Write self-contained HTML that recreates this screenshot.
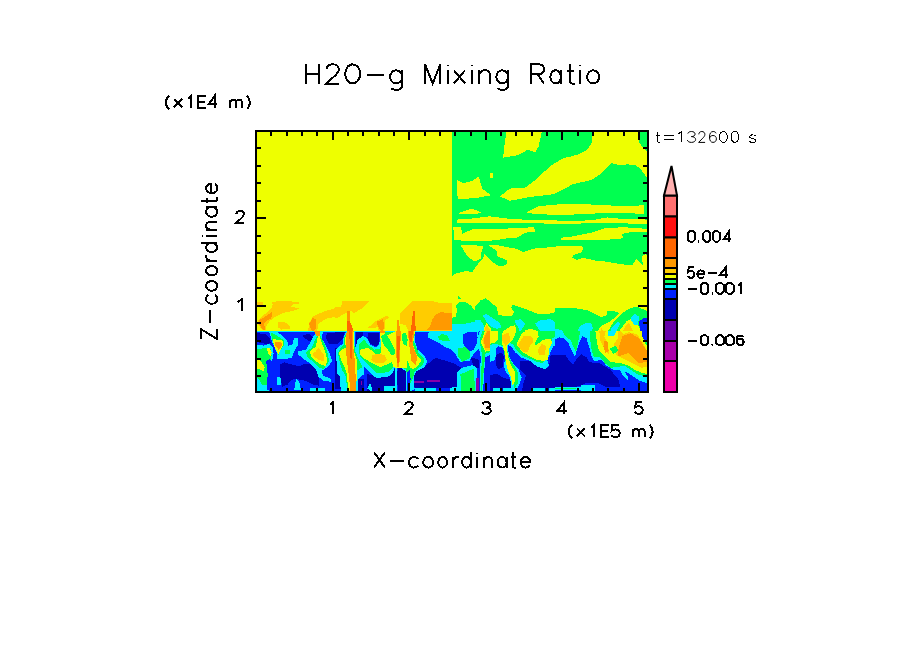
<!DOCTYPE html>
<html><head><meta charset="utf-8"><style>
html,body{margin:0;padding:0;background:#fff;width:904px;height:654px;overflow:hidden}
svg{display:block}
text{font-family:"Liberation Sans",sans-serif;fill:#000}
</style></head><body>
<svg width="904" height="654" viewBox="0 0 904 654">
<g shape-rendering="crispEdges">
<rect x="256" y="131" width="392" height="261" fill="#eeff00"/>
<rect x="452" y="131" width="196" height="261" fill="#00ff50"/>
<polygon fill="#eeff00" points="506.4,132.0 541.8,132.0 538.5,146.6 535.2,152.1 527.4,149.9 521.9,153.2 516.4,155.4 503.1,157.7 504.2,146.6"/>
<polygon fill="#eeff00" points="591.6,132.0 638.1,132.0 639.2,142.2 643.6,148.8 647.0,151.0 647.0,177.6 640.3,168.7 635.8,165.4 627.0,164.3 621.5,165.4 611.5,163.2 606.0,168.7 600.4,174.2 591.6,179.8 582.7,182.0 572.8,184.2 562.8,189.7 554.0,194.2 545.1,195.3 535.2,196.4 527.4,197.5 516.4,199.7 509.7,200.8 499.8,196.4 504.2,193.1 509.7,188.6 525.2,187.5 534.1,180.9 542.9,173.1 549.6,166.5 558.4,161.0 565.0,157.7 570.6,156.5 578.3,154.3 587.2,149.9 591.6,143.3"/>
<polygon fill="#eeff00" points="456.6,179.8 463.3,183.1 472.1,180.9 478.8,176.5 482.1,188.6 490.9,195.3 478.8,197.5 467.7,198.6 457.7,198.6"/>
<polygon fill="#eeff00" points="490.0,173.0 492.5,173.0 493.0,177.5 490.0,178.0"/>
<polygon fill="#eeff00" points="458.8,213.0 472.1,208.5 482.1,213.0 472.1,214.1 458.8,214.1"/>
<polygon fill="#eeff00" points="527.4,211.9 538.5,206.3 560.6,204.1 582.7,204.1 604.9,205.2 627.0,206.3 643.6,205.2 644.2,214.1 627.0,213.0 604.9,213.0 582.7,214.1 560.6,215.2 538.5,214.1 527.4,213.0"/>
<polygon fill="#eeff00" points="456.6,219.6 472.1,218.5 489.8,216.3 507.5,218.5 523.0,219.6 538.5,219.6 560.6,220.7 582.7,220.7 596.0,219.6 607.1,217.4 618.1,218.5 647.0,219.6 647.0,224.0 604.9,222.9 560.6,224.0 523.0,222.9 494.2,222.9 472.1,222.9 456.6,223.4"/>
<polygon fill="#eeff00" points="453.3,227.2 461.1,227.2 462.2,233.8 472.1,229.4 494.2,229.4 511.9,228.3 534.1,227.2 535.2,231.6 525.2,232.7 516.4,238.2 507.5,238.2 494.2,240.4 472.1,241.5 460.0,240.4 454.4,240.4"/>
<polygon fill="#eeff00" points="561.0,238.3 564.4,237.2 576.5,236.1 581.0,235.0 621.9,235.0 623.6,238.3 604.2,240.0 572.1,240.5 561.0,240.0"/>
<polygon fill="#eeff00" points="604.9,228.3 622.6,227.2 640.3,228.3 647.0,229.4 647.0,231.6 624.8,232.7 618.1,237.1 604.9,239.3 582.7,240.4 573.9,236.0 591.6,232.7"/>
<polygon fill="#eeff00" points="460.5,245.0 472.1,245.0 482.1,246.1 483.2,247.2 481.5,251.6 481.0,258.2 476.5,261.0 473.2,261.0 466.6,254.9"/>
<polygon fill="#eeff00" points="452.0,275.9 456.6,273.2 466.6,271.0 472.1,272.1 476.5,266.0 479.9,261.5 483.2,258.2 484.3,253.8 488.7,258.2 494.2,263.2 499.8,266.5 506.4,264.9 507.5,260.4 497.6,256.6 497.0,251.6 493.1,248.3 488.7,246.1 489.8,245.0 498.7,245.5 516.4,248.8 523.0,252.1 529.6,249.9 538.5,247.7 544.0,248.3 550.0,246.6 582.1,246.1 583.2,248.8 581.0,252.7 573.2,254.9 572.1,257.7 576.5,259.9 583.2,257.7 594.2,260.4 605.3,261.5 618.6,263.8 631.9,265.4 636.3,259.3 642.9,264.9 641.8,256.0 645.1,254.4 647.0,254.9 647.0,392.0 452.0,392.0"/>
<clipPath id="c0"><rect x="256.00" y="290.00" width="80.00" height="43.00"/></clipPath>
<g clip-path="url(#c0)">
<rect x="256.00" y="290.00" width="80.00" height="43.00" fill="#eeff00"/>
<polygon fill="#ffcc00" points="257.2,302.3 263.0,302.3 262.8,304.6 257.2,304.9"/>
<polygon fill="#ffcc00" points="271.4,301.9 281.5,301.0 290.4,301.4 299.2,302.1 299.2,303.7 292.2,304.6 291.3,306.9 299.2,308.3 296.6,309.9 290.4,311.4 284.2,312.7 278.0,315.4 272.7,318.5 269.2,321.5 266.5,326.0 266.1,330.4 262.5,330.0 258.5,325.1 257.7,320.7 261.2,317.1 266.5,312.7 270.9,309.2 272.7,304.7"/>
<polygon fill="#ffcc00" points="278.0,322.4 284.2,321.5 289.5,326.0 290.4,329.1 281.5,329.5 278.5,327.7"/>
<polygon fill="#ffcc00" points="308.1,332.2 309.0,323.3 312.5,317.1 316.9,314.5 325.8,310.9 335.0,308.3 335.0,317.1 327.6,318.0 318.7,323.3 316.9,332.2"/>
<polygon fill="#ff9900" points="258.5,320.7 265.6,316.2 272.7,311.4 271.4,318.0 265.6,321.5 263.8,324.2 265.6,330.0 263.0,329.5 259.4,325.1"/>
<polygon fill="#ff9900" points="309.0,324.2 312.5,318.0 316.1,319.8 316.1,328.6 312.5,332.2"/>
</g>
<clipPath id="c1"><rect x="335.00" y="290.00" width="81.00" height="43.00"/></clipPath>
<g clip-path="url(#c1)">
<rect x="335.00" y="290.00" width="81.00" height="43.00" fill="#eeff00"/>
<polygon fill="#ffcc00" points="333.2,307.7 341.2,306.8 342.1,301.1 369.5,301.1 364.2,306.8 354.5,313.0 350.9,311.2 343.8,313.9 338.5,317.4 333.2,318.3"/>
<polygon fill="#ffcc00" points="367.7,328.1 375.7,321.0 386.3,315.7 389.0,317.4 384.6,321.0 385.4,327.2 382.8,332.5 379.2,331.6 377.5,327.2 373.9,328.1"/>
<polygon fill="#ffcc00" points="399.6,313.9 405.8,307.7 412.0,301.1 419.1,301.1 419.1,332.5 409.3,332.5 405.8,325.4 400.5,323.6"/>
<polygon fill="#ff9900" points="346.9,311.2 349.6,311.2 350.0,321.0 346.5,321.0"/>
<polygon fill="#ff9900" points="376.6,321.9 382.8,319.2 384.6,327.2 381.9,332.5 378.4,327.2"/>
<polygon fill="#ff9900" points="397.4,320.1 398.7,320.1 400.5,332.5 396.9,332.5"/>
<polygon fill="#ff6600" points="346.5,321.0 350.0,321.0 352.7,328.9 352.7,332.5 346.5,332.5"/>
<polygon fill="#ff6600" points="412.9,311.2 419.1,311.2 419.1,332.5 410.2,332.5 412.0,322.7"/>
</g>
<clipPath id="c2"><rect x="415.00" y="290.00" width="38.00" height="43.00"/></clipPath>
<g clip-path="url(#c2)">
<rect x="415.00" y="290.00" width="38.00" height="43.00" fill="#eeff00"/>
<polygon fill="#ffcc00" points="399.4,313.9 407.4,303.3 412.7,301.1 432.2,301.1 439.2,302.8 456.9,302.8 456.9,329.4 418.0,329.4 414.5,328.9 403.8,328.9 400.3,323.6 400.3,316.5"/>
<polygon fill="#ffcc00" points="412.7,329.4 456.9,329.4 456.9,332.5 421.5,332.5"/>
<polygon fill="#ff9900" points="432.2,319.2 435.7,314.8 441.0,312.1 448.1,313.0 456.9,313.9 456.9,329.8 426.9,329.8 430.4,325.4"/>
<polygon fill="#ff6600" points="396.8,322.7 399.0,319.2 400.3,332.5 396.3,332.5"/>
<polygon fill="#ff6600" points="409.2,332.5 412.7,321.9 413.1,311.2 414.5,311.2 415.4,325.4 416.7,332.5"/>
</g>
<clipPath id="c3"><rect x="452.00" y="290.00" width="24.00" height="43.00"/></clipPath>
<g clip-path="url(#c3)">
<rect x="452.00" y="290.00" width="24.00" height="43.00" fill="#eeff00"/>
<polygon fill="#00ff50" points="448.1,319.2 456.1,316.5 456.9,310.4 456.1,305.9 460.5,301.5 465.8,302.4 470.2,305.0 475.0,310.4 475.0,343.1 448.1,343.1"/>
<polygon fill="#00ff50" points="457.8,295.8 460.9,298.8 457.8,298.8"/>
<polygon fill="#00eeff" points="448.1,325.4 456.9,323.6 465.8,323.6 479.1,321.0 479.1,343.1 448.1,343.1"/>
<polygon fill="#0022ff" points="464.9,333.4 479.1,331.6 479.1,343.1 464.9,343.1"/>
</g>
<clipPath id="c4"><rect x="475.00" y="290.00" width="81.00" height="43.00"/></clipPath>
<g clip-path="url(#c4)">
<rect x="475.00" y="290.00" width="81.00" height="43.00" fill="#eeff00"/>
<polygon fill="#00ff50" points="470.6,312.1 480.3,300.6 485.6,298.0 490.9,302.4 497.1,307.7 498.0,314.8 503.3,315.7 512.2,315.7 513.9,312.1 511.3,307.7 512.2,305.0 516.6,305.9 524.6,308.6 536.9,313.5 550.2,313.5 559.1,311.2 559.1,343.1 470.6,343.1"/>
<polygon fill="#00eeff" points="470.6,320.1 480.3,320.1 483.8,325.4 483.0,343.1 470.6,343.1"/>
<polygon fill="#00eeff" points="483.0,315.7 486.5,313.9 492.7,318.3 499.8,322.7 501.5,327.2 497.1,328.9 491.8,327.2 486.5,321.9"/>
<polygon fill="#00eeff" points="514.8,320.1 521.0,319.2 525.4,323.6 522.8,328.1 519.2,332.5 518.4,327.2 515.7,323.6"/>
<polygon fill="#00eeff" points="535.2,323.6 540.5,320.1 551.1,319.2 559.1,325.4 559.1,343.1 545.8,343.1 544.0,334.2 538.7,328.9"/>
<polygon fill="#0022ff" points="470.6,331.6 476.8,331.6 476.8,343.1 470.6,343.1"/>
<polygon fill="#00ff50" points="544.0,334.2 547.6,331.6 552.0,334.2 552.9,343.1 544.0,343.1"/>
<polygon fill="#eeff00" points="483.0,343.1 483.8,328.9 486.5,322.7 490.9,328.9 492.7,334.2 497.1,330.7 496.2,343.1"/>
<polygon fill="#eeff00" points="501.5,343.1 504.2,330.7 510.4,326.3 514.8,325.4 516.6,328.9 514.8,336.0 512.2,343.1"/>
<polygon fill="#eeff00" points="519.2,343.1 524.6,330.7 529.9,328.9 535.2,329.8 539.6,334.2 538.7,343.1"/>
<polygon fill="#eeff00" points="546.7,343.1 548.5,337.8 551.1,337.8 551.1,343.1"/>
<polygon fill="#ffcc00" points="483.0,343.1 483.4,332.5 486.5,324.5 490.0,329.8 489.2,343.1"/>
<polygon fill="#ffcc00" points="502.4,343.1 504.2,334.2 509.5,333.4 509.5,343.1"/>
<polygon fill="#ffcc00" points="522.8,343.1 524.6,336.0 532.5,336.9 533.4,343.1"/>
<polygon fill="#ff9900" points="483.4,333.4 488.3,333.4 487.4,343.1 483.8,343.1"/>
</g>
<clipPath id="c5"><rect x="555.00" y="290.00" width="93.00" height="43.00"/></clipPath>
<g clip-path="url(#c5)">
<rect x="555.00" y="290.00" width="93.00" height="43.00" fill="#eeff00"/>
<polygon fill="#00ff50" points="549.7,308.9 561.3,307.9 576.0,308.4 586.5,310.0 594.9,314.2 601.2,317.3 606.5,315.2 607.5,311.0 613.8,311.0 619.1,313.1 613.8,318.4 609.6,321.5 601.2,325.7 597.0,332.0 549.7,332.0"/>
<polygon fill="#00ff50" points="607.5,332.0 613.8,321.5 622.3,313.1 630.7,307.9 637.0,306.8 645.4,310.0 647.5,312.1 654.8,317.3 654.8,332.0 641.2,332.0 638.0,324.7 632.8,321.5 628.6,323.6 623.3,332.0"/>
<polygon fill="#00eeff" points="549.7,327.8 561.3,329.9 567.6,335.2 568.7,340.4 549.7,340.4"/>
<polygon fill="#00eeff" points="577.1,332.0 580.2,325.7 586.5,322.6 591.8,323.6 592.8,328.9 589.7,334.1 585.5,336.2 579.2,340.4 576.0,340.4"/>
<polygon fill="#00eeff" points="606.5,340.4 611.7,327.8 618.1,321.5 620.2,323.6 615.9,332.0 611.7,340.4"/>
<polygon fill="#00eeff" points="630.7,317.3 634.9,314.2 639.1,316.3 638.0,324.7 634.9,325.7 630.7,322.6"/>
<polygon fill="#0022ff" points="639.1,321.5 643.3,318.4 654.8,316.3 654.8,340.4 641.2,340.4 640.1,332.0"/>
<polygon fill="#0000b0" points="558.2,338.3 564.5,337.3 566.6,340.4 558.2,340.4"/>
<polygon fill="#0000b0" points="579.2,340.4 582.3,336.2 586.5,337.3 587.6,340.4"/>
<polygon fill="#eeff00" points="615.9,340.4 620.2,329.9 626.5,321.5 630.7,319.4 633.8,324.7 637.0,332.0 639.1,340.4"/>
<polygon fill="#eeff00" points="600.2,340.4 603.3,327.8 610.7,320.5 614.9,319.4 609.6,327.8 606.5,334.1 605.4,340.4"/>
<polygon fill="#ffcc00" points="620.2,340.4 624.4,327.8 628.6,322.6 633.8,332.0 634.9,340.4"/>
<polygon fill="#ffcc00" points="600.2,340.4 601.2,327.8 604.4,332.0 604.4,340.4"/>
<polygon fill="#ff9900" points="624.4,340.4 626.5,334.1 632.8,333.1 635.9,340.4"/>
</g>
<clipPath id="c6"><rect x="256.00" y="331.00" width="80.00" height="61.00"/></clipPath>
<g clip-path="url(#c6)">
<rect x="256.00" y="331.00" width="80.00" height="61.00" fill="#0022ff"/>
<polygon fill="#0000b0" points="253.0,332.9 264.8,333.9 269.7,337.8 270.6,342.7 267.7,344.7 260.9,342.7 253.0,341.7"/>
<polygon fill="#0000b0" points="280.4,364.2 284.3,362.3 294.1,365.2 299.0,366.2 303.9,364.2 309.8,363.7 315.6,366.2 318.6,371.1 319.5,380.9 318.6,385.7 313.7,384.8 305.9,380.9 301.0,379.9 296.1,378.9 291.2,379.9 287.3,384.8 282.4,386.7 280.4,378.9 279.9,371.1"/>
<polygon fill="#0000b0" points="302.9,334.9 309.8,333.9 313.7,337.8 312.7,341.7 308.8,340.8 303.9,337.8"/>
<polygon fill="#0000b0" points="327.4,332.9 338.1,332.9 338.1,344.7 329.3,343.7 325.4,337.8"/>
<polygon fill="#00eeff" points="253.0,344.7 263.8,345.6 269.7,343.7 272.6,347.6 273.6,353.5 272.1,361.3 270.6,369.1 269.7,376.0 268.7,388.7 253.0,388.7"/>
<polygon fill="#00eeff" points="268.7,330.0 274.6,330.0 282.4,335.9 287.3,340.8 288.3,345.6 292.2,344.7 294.1,337.8 298.0,337.8 298.0,344.7 294.1,351.5 292.2,357.4 284.3,359.3 276.5,359.3 277.5,353.5 275.5,349.6 272.1,341.7"/>
<polygon fill="#00eeff" points="298.0,351.5 305.9,349.6 310.7,341.7 313.7,335.9 317.6,330.0 323.5,330.0 321.5,337.8 325.4,344.7 329.3,352.5 332.3,361.3 327.4,367.2 321.5,371.1 323.5,376.0 331.3,378.9 331.3,381.8 323.5,380.9 318.6,376.9 315.6,369.1 309.8,363.3 303.9,359.3 298.0,354.4"/>
<polygon fill="#00eeff" points="276.5,376.9 280.4,376.9 281.4,384.8 277.5,384.8"/>
<polygon fill="#00eeff" points="294.1,389.8 296.1,378.9 299.0,380.9 301.0,389.8"/>
<polygon fill="#00eeff" points="253.0,384.8 268.7,384.8 268.7,392.6 253.0,392.6"/>
<polygon fill="#00eeff" points="309.8,388.2 325.4,388.2 325.4,392.6 309.8,392.6"/>
<polygon fill="#00eeff" points="253.0,330.0 338.1,330.0 338.1,332.0 253.0,332.0"/>
<polygon fill="#00ff50" points="253.0,349.6 261.8,348.6 266.7,347.6 270.6,348.6 271.6,355.4 270.6,361.3 268.7,367.2 267.7,376.0 266.7,384.8 261.8,384.8 258.9,378.9 253.0,376.9"/>
<polygon fill="#00ff50" points="270.6,332.0 277.5,335.9 283.4,339.8 284.3,344.7 279.4,351.5 278.5,355.4 276.5,349.6 272.6,341.7"/>
<polygon fill="#00ff50" points="285.3,349.6 290.2,349.6 290.2,354.4 285.3,354.4"/>
<polygon fill="#00ff50" points="305.9,352.5 311.7,347.6 315.6,338.8 318.6,332.0 323.5,341.7 327.4,352.5 329.3,361.3 323.5,369.1 318.6,367.2 313.7,362.3 307.8,357.4"/>
<polygon fill="#0022ff" points="266.1,361.0 269.7,359.3 272.7,362.3 271.6,374.0 270.6,389.8 266.7,389.8 267.7,374.0"/>
<polygon fill="#eeff00" points="253.0,356.4 260.9,361.3 264.8,367.2 263.8,371.1 258.9,369.1 253.0,367.2"/>
<polygon fill="#eeff00" points="266.7,348.6 269.7,347.6 271.6,352.5 271.1,356.4 268.7,354.4"/>
<polygon fill="#eeff00" points="272.6,338.8 283.4,340.8 282.4,346.6 278.5,354.4 274.6,347.6"/>
<polygon fill="#eeff00" points="309.8,351.5 315.6,346.6 318.6,333.9 322.5,344.7 325.4,352.5 327.4,360.3 325.4,366.2 318.6,363.3 311.7,357.4"/>
<polygon fill="#ffcc00" points="312.7,353.5 315.6,351.5 318.6,347.6 323.5,354.4 323.5,361.3 317.6,359.3 313.7,356.4"/>
<polygon fill="#ff9900" points="274.6,341.7 282.4,342.7 281.4,346.6 278.5,349.6 275.5,345.6"/>
<polygon fill="#ff9900" points="313.7,330.0 320.5,330.0 319.5,335.9 316.6,335.9"/>
</g>
<clipPath id="c7"><rect x="335.00" y="331.00" width="81.00" height="61.00"/></clipPath>
<g clip-path="url(#c7)">
<rect x="335.00" y="331.00" width="81.00" height="61.00" fill="#0022ff"/>
<polygon fill="#0000b0" points="333.0,332.0 344.8,332.0 342.8,338.8 337.9,343.7 333.0,344.7"/>
<polygon fill="#0000b0" points="333.0,347.6 337.0,348.6 338.9,359.3 339.9,371.1 340.9,380.9 341.8,388.7 333.0,388.7"/>
<polygon fill="#0000b0" points="356.5,332.0 363.4,332.0 363.4,339.8 360.4,349.6 357.5,352.5 355.5,344.7"/>
<polygon fill="#0000b0" points="368.3,332.9 379.0,332.9 379.0,343.7 376.1,346.6 370.2,343.7 367.3,337.8"/>
<polygon fill="#0000b0" points="367.3,374.0 376.1,376.0 387.8,373.0 395.0,369.1 397.6,367.2 397.6,392.6 367.3,392.6"/>
<polygon fill="#0000b0" points="357.5,378.9 364.3,378.9 364.3,392.6 357.5,392.6"/>
<polygon fill="#0000b0" points="397.6,367.2 418.1,367.2 418.1,392.6 397.6,392.6"/>
<polygon fill="#0000b0" points="358.0,369.1 362.4,369.1 363.4,373.0 360.4,376.0 358.5,374.0"/>
<polygon fill="#00eeff" points="343.8,335.9 347.7,330.0 354.6,330.0 355.0,344.7 357.5,356.4 364.3,359.3 364.3,374.0 360.4,376.9 357.5,380.9 357.5,392.6 340.9,392.6 339.9,376.9 337.0,373.0 336.0,349.6 338.9,346.6 342.8,343.7"/>
<polygon fill="#00eeff" points="354.6,353.5 357.5,339.8 363.4,335.9 367.3,338.8 370.2,344.7 376.1,347.6 379.0,344.7 381.0,335.9 381.9,330.0 418.1,330.0 418.1,367.2 413.2,367.2 409.3,369.1 405.4,367.2 399.5,367.2 394.7,367.2 392.7,373.0 387.8,376.9 376.1,377.9 372.2,375.0 364.3,367.2 360.4,359.3 356.5,357.4"/>
<polygon fill="#00eeff" points="367.3,388.7 370.2,382.8 373.1,392.6"/>
<polygon fill="#00eeff" points="383.9,385.7 394.7,385.7 394.7,392.6 383.9,392.6"/>
<polygon fill="#00eeff" points="333.0,331.0 418.1,331.0 418.1,332.0 333.0,332.0"/>
<polygon fill="#00ff50" points="344.3,337.8 347.7,330.0 354.1,330.0 354.6,349.6 358.5,359.3 362.4,367.2 356.5,371.1 355.5,392.6 347.7,392.6 345.8,376.9 342.8,371.1 340.9,367.2 337.9,353.5 339.9,348.6 343.8,344.7"/>
<polygon fill="#00ff50" points="359.4,343.7 364.3,339.8 368.3,344.7 374.1,349.6 380.0,348.6 382.9,339.8 383.9,332.0 418.1,332.0 418.1,365.2 399.5,365.2 393.7,366.2 389.8,371.1 383.9,373.0 376.1,373.0 372.2,369.1 366.3,362.3 360.4,357.4 358.5,349.6"/>
<polygon fill="#eeff00" points="344.8,338.8 347.7,330.0 353.6,330.0 353.6,349.6 356.5,359.3 357.5,369.1 355.5,392.6 348.7,392.6 346.7,374.0 344.8,367.2 340.9,359.3 338.9,352.5 341.8,349.6 345.8,347.6"/>
<polygon fill="#eeff00" points="360.4,349.6 368.3,347.6 375.1,353.5 378.0,355.4 381.0,352.5 383.9,343.7 385.9,335.9 393.7,332.0 401.5,330.0 418.1,330.0 418.1,364.2 413.2,367.2 403.5,367.2 399.5,367.2 393.7,367.2 391.7,362.3 387.8,364.2 380.0,367.2 372.2,363.3 364.3,358.4 360.4,355.4"/>
<polygon fill="#eeff00" points="396.1,367.2 398.6,367.2 398.6,392.6 396.6,392.6"/>
<polygon fill="#eeff00" points="411.3,367.2 413.2,367.2 414.2,392.6 412.3,392.6"/>
<polygon fill="#eeff00" points="380.0,332.9 385.1,332.9 383.9,344.7 385.9,354.4 381.0,354.4 381.0,344.7"/>
<polygon fill="#00ff50" points="381.0,335.9 385.9,333.9 389.8,339.8 394.7,349.6 395.6,353.5 391.7,355.4 387.8,349.6 382.9,343.7"/>
<polygon fill="#ffcc00" points="372.2,355.4 378.0,353.5 384.9,355.4 386.8,359.3 383.9,363.3 376.1,363.3 371.2,360.3"/>
<polygon fill="#ff9900" points="346.7,330.0 353.6,330.0 353.1,344.7 354.6,359.3 355.5,374.0 356.5,392.6 350.6,392.6 348.7,374.0 346.7,359.3 345.8,344.7"/>
<polygon fill="#ff9900" points="395.6,330.0 400.5,330.0 400.5,339.8 399.5,354.4 398.6,367.2 396.6,367.2 396.1,354.4 396.6,339.8"/>
<polygon fill="#ff9900" points="407.4,330.0 418.1,330.0 418.1,367.2 411.3,367.2 409.3,354.4 408.3,339.8"/>
<polygon fill="#ff9900" points="379.0,328.0 385.4,328.0 384.4,333.4 380.5,333.4"/>
<polygon fill="#ff6600" points="349.2,330.0 352.6,330.0 351.6,344.7 351.6,359.3 350.6,359.3 349.7,344.7"/>
<polygon fill="#ff6600" points="397.1,339.8 399.5,339.8 399.1,362.3 397.6,362.3"/>
<polygon fill="#8800aa" points="360.9,380.9 362.4,380.9 362.4,384.8 360.9,384.8"/>
</g>
<clipPath id="c8"><rect x="395.00" y="331.00" width="58.00" height="61.00"/></clipPath>
<g clip-path="url(#c8)">
<rect x="395.00" y="331.00" width="58.00" height="61.00" fill="#0022ff"/>
<polygon fill="#0022ff" points="463.5,335.9 469.3,332.9 478.1,332.9 478.1,349.6 469.3,345.6 463.5,341.7"/>
<polygon fill="#0000b0" points="414.6,371.1 424.3,367.2 433.1,359.3 436.1,357.9 443.9,360.3 453.7,363.3 458.6,365.2 463.5,371.1 456.6,376.9 455.6,387.7 414.6,387.7 412.6,378.9"/>
<polygon fill="#0000b0" points="469.3,357.4 478.1,356.4 478.1,365.2 470.3,364.2"/>
<polygon fill="#0000b0" points="397.9,368.1 405.8,367.2 406.7,374.0 405.8,392.6 397.9,392.6 397.0,374.0"/>
<polygon fill="#00eeff" points="428.3,332.9 430.2,330.0 478.1,330.0 478.1,356.4 471.3,360.3 468.3,362.3 461.5,362.3 455.6,356.4 451.7,349.6 445.9,347.6 440.0,343.7 434.1,340.8 428.3,337.8"/>
<polygon fill="#00eeff" points="393.0,330.0 415.5,330.0 414.6,339.8 417.5,349.6 424.3,355.4 427.3,361.3 424.3,367.2 416.5,371.1 413.6,376.9 414.6,388.7 409.7,392.6 405.8,392.6 406.2,371.1 400.9,368.1 393.0,367.2"/>
<polygon fill="#00eeff" points="393.0,367.2 397.4,367.2 397.0,392.6 393.0,392.6"/>
<polygon fill="#00eeff" points="414.6,388.2 436.1,388.2 436.1,392.6 414.6,392.6"/>
<polygon fill="#00eeff" points="449.8,388.2 478.1,388.2 478.1,392.6 449.8,392.6"/>
<polygon fill="#00eeff" points="393.0,331.0 478.1,331.0 478.1,332.0 393.0,332.0"/>
<polygon fill="#00ff50" points="438.0,336.8 441.9,333.9 447.8,335.9 449.8,340.8 443.9,340.8 439.0,339.8"/>
<polygon fill="#00ff50" points="457.6,348.6 463.5,348.6 469.3,354.4 465.4,358.4 459.5,357.4"/>
<polygon fill="#00ff50" points="393.0,330.0 415.0,330.0 414.1,341.7 418.5,352.5 424.3,358.4 423.4,364.2 417.5,369.1 414.6,372.1 412.6,378.9 409.7,384.8 407.7,376.9 405.8,369.1 400.9,367.2 393.0,366.2"/>
<polygon fill="#0022ff" points="406.7,372.1 409.7,370.1 410.6,378.9 408.7,392.6 407.2,392.6"/>
<polygon fill="#eeff00" points="393.0,330.0 415.0,330.0 413.1,344.7 416.5,354.4 421.4,360.3 418.5,365.2 413.6,369.1 409.7,367.2 407.7,359.3 406.7,367.7 393.0,367.7"/>
<polygon fill="#00ff50" points="401.8,333.9 405.8,332.9 407.7,339.8 406.7,345.6 402.8,343.7"/>
<polygon fill="#ff9900" points="396.0,330.0 400.9,330.0 400.4,344.7 399.9,359.3 398.9,367.2 397.0,367.2 396.0,349.6"/>
<polygon fill="#ff9900" points="407.7,330.0 414.6,330.0 412.6,344.7 417.5,357.4 415.5,365.2 411.6,361.3 409.2,344.7"/>
<polygon fill="#ff6600" points="397.4,335.9 399.9,335.9 399.4,354.4 398.9,363.3 397.4,363.3 397.0,349.6"/>
<polygon fill="#ff6600" points="408.7,330.0 413.1,330.0 411.6,341.7 409.7,341.7"/>
<polygon fill="#8800aa" points="413.6,380.9 424.3,380.9 423.4,383.3 414.6,382.8"/>
<polygon fill="#8800aa" points="427.3,380.4 440.0,380.4 440.0,382.3 427.3,382.3"/>
</g>
<clipPath id="c9"><rect x="452.00" y="331.00" width="39.00" height="61.00"/></clipPath>
<g clip-path="url(#c9)">
<rect x="452.00" y="331.00" width="39.00" height="61.00" fill="#0022ff"/>
<polygon fill="#0000b0" points="437.7,359.6 451.3,361.9 462.6,368.6 462.6,392.4 437.7,392.4"/>
<polygon fill="#0000b0" points="470.5,357.3 478.5,359.6 478.5,367.5 473.9,367.5"/>
<polygon fill="#00eeff" points="437.7,330.2 452.0,330.2 452.0,322.3 460.4,322.3 469.4,321.1 477.3,320.0 483.0,320.0 479.6,326.8 478.5,332.4 477.3,338.1 479.6,348.3 473.9,353.9 469.4,360.7 460.4,361.9 457.0,357.3 454.7,352.8 446.8,347.1 437.7,342.6"/>
<polygon fill="#0022ff" points="462.6,334.7 467.1,332.4 477.3,332.4 477.3,342.6 473.9,349.4 469.4,351.7 464.9,347.1 462.6,342.6"/>
<polygon fill="#00ff50" points="437.7,330.2 446.8,332.4 446.8,340.4 437.7,340.4"/>
<polygon fill="#00ff50" points="458.1,348.3 466.0,347.1 470.5,351.7 469.4,358.5 462.6,361.9 458.1,356.2"/>
<polygon fill="#00ff50" points="452.0,317.7 492.0,317.7 492.0,322.3 473.9,322.3 452.0,324.5"/>
<polygon fill="#00eeff" points="457.0,372.0 462.6,367.5 472.8,365.2 477.3,368.6 476.2,392.4 457.0,392.4"/>
<polygon fill="#00ff50" points="460.4,374.3 466.0,372.0 473.9,368.6 475.1,392.4 461.5,392.4"/>
<polygon fill="#00eeff" points="477.3,338.1 480.7,329.0 485.2,320.0 492.0,320.0 492.0,353.9 485.2,357.3 483.0,392.4 479.6,392.4 480.7,357.3"/>
<polygon fill="#00ff50" points="479.6,340.4 483.0,329.0 486.4,320.0 492.0,320.0 492.0,351.7 485.2,353.9 481.9,392.4 480.7,392.4 481.9,353.9"/>
<polygon fill="#eeff00" points="480.7,342.6 484.1,333.6 486.4,322.3 492.0,322.3 492.0,350.5 485.2,351.7"/>
<polygon fill="#ffcc00" points="482.4,340.4 485.8,332.4 487.5,324.5 492.0,324.5 492.0,349.4 485.2,350.5"/>
<polygon fill="#ff9900" points="483.6,338.1 487.5,331.3 492.0,329.0 492.0,348.3 485.2,348.3"/>
<polygon fill="#8800aa" points="476.2,377.7 479.0,377.7 478.5,392.4 476.2,392.4"/>
<polygon fill="#00eeff" points="437.7,386.7 457.0,386.7 457.0,392.4 437.7,392.4"/>
</g>
<clipPath id="c10"><rect x="490.00" y="331.00" width="66.00" height="61.00"/></clipPath>
<g clip-path="url(#c10)">
<rect x="490.00" y="331.00" width="66.00" height="61.00" fill="#0022ff"/>
<polygon fill="#0000b0" points="496.3,354.6 501.6,352.5 503.7,356.7 502.7,367.2 498.4,369.3 496.3,365.1"/>
<polygon fill="#0000b0" points="487.9,375.7 496.3,373.6 503.7,377.8 511.1,379.9 511.1,392.6 487.9,392.6"/>
<polygon fill="#0000b0" points="519.6,360.9 530.1,360.9 536.5,366.2 544.9,369.3 549.1,367.2 550.2,355.6 563.9,354.6 563.9,392.6 521.7,392.6 523.8,382.0 525.9,375.7 519.6,369.3"/>
<polygon fill="#00eeff" points="487.9,322.9 563.9,322.9 563.9,344.0 553.4,346.1 549.1,355.6 547.0,359.8 549.1,365.1 544.9,369.3 536.5,366.2 530.1,360.9 521.7,357.7 515.3,352.5 511.1,346.1 507.9,345.1 509.0,356.7 514.3,365.1 518.5,369.3 521.7,377.8 519.6,384.1 515.3,392.6 512.2,392.6 510.1,377.8 505.8,371.5 503.7,365.1 505.8,356.7 503.7,348.2 498.4,346.1 496.3,348.2 495.3,359.8 487.9,363.0"/>
<polygon fill="#00ff50" points="487.9,322.9 563.9,322.9 563.9,331.3 555.5,335.6 552.3,338.7 550.2,346.1 547.0,354.6 546.0,359.8 542.8,363.0 536.5,362.0 530.1,358.8 521.7,355.6 516.4,350.3 513.2,344.0 507.9,342.9 506.9,349.3 510.1,359.8 515.3,367.2 518.5,373.6 517.5,384.1 514.3,388.4 512.2,377.8 509.0,371.5 505.8,363.0 504.8,356.7 502.7,346.1 496.3,344.0 487.9,345.1"/>
<polygon fill="#eeff00" points="487.9,328.2 498.4,331.3 497.4,340.8 494.2,342.9 487.9,344.0"/>
<polygon fill="#eeff00" points="501.6,334.5 505.8,327.1 515.3,322.9 516.4,331.3 512.2,340.8 509.0,344.0 506.9,346.1 507.9,356.7 511.1,365.1 515.3,372.5 515.3,379.9 512.7,386.2 511.1,377.8 507.9,370.4 505.8,362.0 504.8,351.4 501.6,342.9"/>
<polygon fill="#eeff00" points="516.4,344.0 521.7,333.4 528.0,329.2 537.5,331.3 538.6,336.6 534.3,344.0 536.5,345.1 542.8,339.8 550.2,338.7 552.3,342.9 549.1,349.3 548.1,359.8 542.8,360.9 536.5,359.8 530.1,356.7 521.7,351.4"/>
<polygon fill="#ffcc00" points="501.6,335.6 509.0,332.4 510.1,340.8 505.8,346.1 502.7,341.9"/>
<polygon fill="#ffcc00" points="517.5,345.1 523.8,335.6 532.2,336.6 533.3,341.9 529.1,347.2 528.0,352.5 522.7,351.4"/>
<polygon fill="#ffcc00" points="537.5,350.3 541.7,344.0 546.0,346.1 544.9,354.6 539.6,355.6"/>
<polygon fill="#00eeff" points="493.2,387.5 500.6,387.5 500.6,392.6 493.2,392.6"/>
<polygon fill="#00eeff" points="502.7,387.5 515.3,387.5 515.3,392.6 502.7,392.6"/>
<polygon fill="#00eeff" points="532.2,388.1 544.9,388.1 544.9,392.6 532.2,392.6"/>
<polygon fill="#00eeff" points="549.1,387.5 563.9,387.5 563.9,392.6 549.1,392.6"/>
</g>
<clipPath id="c11"><rect x="555.00" y="331.00" width="93.00" height="61.00"/></clipPath>
<g clip-path="url(#c11)">
<rect x="555.00" y="331.00" width="93.00" height="61.00" fill="#00ff50"/>
<polygon fill="#00eeff" points="549.7,327.9 561.3,327.9 564.5,335.3 570.8,340.5 573.9,347.9 576.0,352.1 579.2,336.3 581.3,327.9 589.7,327.9 589.7,336.3 591.8,351.0 593.9,357.3 600.2,357.3 604.4,362.6 610.7,367.8 618.1,366.8 624.4,365.7 630.7,369.9 637.0,374.1 644.3,376.2 654.8,378.3 654.8,398.3 549.7,398.3"/>
<polygon fill="#0022ff" points="549.7,342.6 559.2,337.4 563.4,338.4 568.7,343.7 572.9,353.1 575.0,356.3 579.2,342.6 582.3,336.3 586.5,338.4 589.7,348.9 591.8,357.3 594.9,361.5 601.2,359.4 606.5,365.7 613.8,369.9 620.2,369.9 626.5,372.0 632.8,376.2 639.1,380.4 645.4,382.5 654.8,385.7 654.8,398.3 549.7,398.3"/>
<polygon fill="#0022ff" points="641.2,327.9 654.8,327.9 654.8,342.6 642.2,340.5 641.2,334.2"/>
<polygon fill="#0000b0" points="549.7,355.2 565.5,355.2 569.7,361.5 572.9,364.7 577.1,358.4 581.3,354.2 586.5,357.3 588.6,361.5 592.8,362.6 599.1,362.6 605.4,366.8 610.7,369.9 613.8,374.1 618.1,378.3 620.2,386.7 613.8,386.7 605.4,386.7 597.0,382.5 586.5,382.5 580.2,385.7 576.0,386.7 549.7,386.7"/>
<polygon fill="#00eeff" points="618.1,366.8 622.3,367.8 628.6,378.3 627.5,380.4 623.3,376.2"/>
<polygon fill="#eeff00" points="594.9,327.9 641.2,327.9 642.2,336.3 645.4,343.7 654.8,351.0 654.8,375.2 642.2,373.1 634.9,369.9 628.6,365.7 622.3,363.6 615.9,362.6 609.6,361.5 604.4,356.3 599.1,351.0 597.0,342.6"/>
<polygon fill="#00eeff" points="607.5,327.9 618.1,327.9 613.8,336.3 608.6,336.3"/>
<polygon fill="#ffcc00" points="599.1,327.9 606.5,327.9 604.4,336.3 607.5,342.6 609.6,355.2 605.4,351.0 600.2,340.5"/>
<polygon fill="#ffcc00" points="618.1,327.9 623.3,334.2 628.6,332.1 637.0,334.2 642.2,341.6 645.4,347.9 654.8,364.7 642.2,367.8 634.9,364.7 628.6,361.5 620.2,357.3 615.9,355.2 613.8,343.7 618.1,338.4"/>
<polygon fill="#00ff50" points="609.6,348.9 615.9,345.8 618.1,350.0 613.8,354.2"/>
<polygon fill="#ff9900" points="604.4,340.5 607.5,341.6 608.6,351.0 605.4,353.1 603.3,346.8"/>
<polygon fill="#ff9900" points="618.1,350.0 622.3,336.3 630.7,333.2 639.1,338.4 645.4,348.9 654.8,359.4 639.1,363.6 628.6,353.1 622.3,355.2 618.1,356.3"/>
<polygon fill="#00eeff" points="549.7,387.3 581.3,387.3 581.3,389.9 549.7,389.9"/>
<polygon fill="#00ff50" points="549.7,387.8 576.0,387.8 576.0,389.1 549.7,389.1"/>
<polygon fill="#00eeff" points="581.3,384.6 594.9,384.6 594.9,391.1 581.3,391.1"/>
</g>
</g>
<rect x="256" y="131" width="392" height="261" fill="none" stroke="#000" stroke-width="2"/>
<path d="M271.3 131v4.5 M271.3 392v-4.5 M286.6 131v4.5 M286.6 392v-4.5 M302.0 131v4.5 M302.0 392v-4.5 M317.3 131v4.5 M317.3 392v-4.5 M332.6 131v9.0 M332.6 392v-9.0 M347.9 131v4.5 M347.9 392v-4.5 M363.2 131v4.5 M363.2 392v-4.5 M378.6 131v4.5 M378.6 392v-4.5 M393.9 131v4.5 M393.9 392v-4.5 M409.2 131v9.0 M409.2 392v-9.0 M424.5 131v4.5 M424.5 392v-4.5 M439.8 131v4.5 M439.8 392v-4.5 M455.2 131v4.5 M455.2 392v-4.5 M470.5 131v4.5 M470.5 392v-4.5 M485.8 131v9.0 M485.8 392v-9.0 M501.1 131v4.5 M501.1 392v-4.5 M516.4 131v4.5 M516.4 392v-4.5 M531.8 131v4.5 M531.8 392v-4.5 M547.1 131v4.5 M547.1 392v-4.5 M562.4 131v9.0 M562.4 392v-9.0 M577.7 131v4.5 M577.7 392v-4.5 M593.0 131v4.5 M593.0 392v-4.5 M608.4 131v4.5 M608.4 392v-4.5 M623.7 131v4.5 M623.7 392v-4.5 M639.0 131v9.0 M639.0 392v-9.0 M256 376.1h5.0 M648 376.1h-5.0 M256 358.5h5.0 M648 358.5h-5.0 M256 341.0h5.0 M648 341.0h-5.0 M256 323.4h5.0 M648 323.4h-5.0 M256 305.9h10.0 M648 305.9h-10.0 M256 288.4h5.0 M648 288.4h-5.0 M256 270.8h5.0 M648 270.8h-5.0 M256 253.3h5.0 M648 253.3h-5.0 M256 235.7h5.0 M648 235.7h-5.0 M256 218.2h10.0 M648 218.2h-10.0 M256 200.7h5.0 M648 200.7h-5.0 M256 183.1h5.0 M648 183.1h-5.0 M256 165.6h5.0 M648 165.6h-5.0 M256 148.0h5.0 M648 148.0h-5.0" stroke="#000" stroke-width="2" fill="none" shape-rendering="crispEdges"/>
<rect x="664" y="195.5" width="13" height="21.0" fill="#ff7070" stroke="#000" stroke-width="2"/>
<rect x="664" y="216.5" width="13" height="21.0" fill="#ff1010" stroke="#000" stroke-width="2"/>
<rect x="664" y="237.5" width="13" height="20.5" fill="#ff6600" stroke="#000" stroke-width="2"/>
<rect x="664" y="258.0" width="13" height="10.0" fill="#ff9900" stroke="#000" stroke-width="2"/>
<rect x="664" y="268.0" width="13" height="6.0" fill="#ffcc00" stroke="#000" stroke-width="2"/>
<rect x="664" y="274.0" width="13" height="5.0" fill="#eeff00" stroke="#000" stroke-width="2"/>
<rect x="664" y="279.0" width="13" height="5.0" fill="#00ff50" stroke="#000" stroke-width="2"/>
<rect x="664" y="284.0" width="13" height="5.0" fill="#00eeff" stroke="#000" stroke-width="2"/>
<rect x="664" y="289.0" width="13" height="10.0" fill="#0022ff" stroke="#000" stroke-width="2"/>
<rect x="664" y="299.0" width="13" height="21.0" fill="#0000b0" stroke="#000" stroke-width="2"/>
<rect x="664" y="320.0" width="13" height="21.0" fill="#6600aa" stroke="#000" stroke-width="2"/>
<rect x="664" y="341.0" width="13" height="20.0" fill="#aa00aa" stroke="#000" stroke-width="2"/>
<rect x="664" y="361.0" width="13" height="31.0" fill="#ee00aa" stroke="#000" stroke-width="2"/>
<polygon points="671.5,166 664,195.5 677,195.5" fill="#ffb0b0" stroke="#000" stroke-width="2" stroke-linejoin="miter"/>
<g fill="none" stroke="#000" stroke-width="2.00" stroke-linecap="butt" stroke-linejoin="miter" shape-rendering="crispEdges"><path vector-effect="non-scaling-stroke" transform="translate(305.90 83.50) scale(0.9630 0.9143)" d="M0 -21V0M13.5 -21V0M0 -10.5H13.5"/><path vector-effect="non-scaling-stroke" transform="translate(326.20 83.50) scale(0.9357 0.9143)" d="M0.5 -15.5C0.5 -19 3.2 -21 7 -21C10.8 -21 13.5 -18.8 13.5 -15.5C13.5 -12.5 11.5 -10.5 9 -8.2L0 0H14"/><path vector-effect="non-scaling-stroke" transform="translate(345.20 83.50) scale(0.9675 0.9143)" d="M7.7 -21C3.4496 -21 0 -16.296 0 -10.5C0 -4.704 3.4496 0 7.7 0C11.9504 0 15.4 -4.704 15.4 -10.5C15.4 -16.296 11.9504 -21 7.7 -21Z"/><path vector-effect="non-scaling-stroke" transform="translate(366.90 83.50) scale(0.9824 0.9143)" d="M0 -8.8H17"/><path vector-effect="non-scaling-stroke" transform="translate(390.10 83.50) scale(0.9837 0.9143)" d="M12.3 -14.5V1.5C12.3 5 10 7 6.5 7C4 7 2 6.3 1 5M6.15 -14.5C2.7552 -14.5 0 -11.252 0 -7.25C0 -3.248 2.7552 0 6.15 0C9.5448 0 12.3 -3.248 12.3 -7.25C12.3 -11.252 9.5448 -14.5 6.15 -14.5Z"/><path vector-effect="non-scaling-stroke" transform="translate(425.00 83.50) scale(0.9808 0.9143)" d="M0 0V-21L7.8 0L15.6 -21V0"/><path vector-effect="non-scaling-stroke" transform="translate(447.90 83.50) scale(0.9143 0.9143)" d="M0 -14.5V0M0 -20.5V-19.2"/><path vector-effect="non-scaling-stroke" transform="translate(453.90 83.50) scale(0.9333 0.9143)" d="M0 -14.5L12 0M12 -14.5L0 0"/><path vector-effect="non-scaling-stroke" transform="translate(472.10 83.50) scale(0.9143 0.9143)" d="M0 -14.5V0M0 -20.5V-19.2"/><path vector-effect="non-scaling-stroke" transform="translate(479.10 83.50) scale(0.9643 0.9143)" d="M0 -14.5V0M0 -9.5C1 -13 3.3 -14.5 6 -14.5C9.3 -14.5 11.2 -12.5 11.2 -9V0"/><path vector-effect="non-scaling-stroke" transform="translate(496.30 83.50) scale(0.9593 0.9143)" d="M12.3 -14.5V1.5C12.3 5 10 7 6.5 7C4 7 2 6.3 1 5M6.15 -14.5C2.7552 -14.5 0 -11.252 0 -7.25C0 -3.248 2.7552 0 6.15 0C9.5448 0 12.3 -3.248 12.3 -7.25C12.3 -11.252 9.5448 -14.5 6.15 -14.5Z"/><path vector-effect="non-scaling-stroke" transform="translate(531.00 83.50) scale(0.9699 0.9143)" d="M0 0V-21H8.3C11.5 -21 13.3 -19 13.3 -15.7C13.3 -12.4 11.5 -10.4 8.3 -10.4H0M6.5 -10.4L13.3 0"/><path vector-effect="non-scaling-stroke" transform="translate(550.40 83.50) scale(0.9286 0.9143)" d="M5.6 -14.5C2.5088 -14.5 0 -11.252 0 -7.25C0 -3.248 2.5088 0 5.6 0C8.6912 0 11.2 -3.248 11.2 -7.25C11.2 -11.252 8.6912 -14.5 5.6 -14.5ZM11.2 -14.5V0"/><path vector-effect="non-scaling-stroke" transform="translate(567.30 83.50) scale(0.8706 0.9143)" d="M2.8 -21V-2.8C2.8 -0.8 3.8 0 5.8 0H8.5M0 -14H8"/><path vector-effect="non-scaling-stroke" transform="translate(580.20 83.50) scale(0.9143 0.9143)" d="M0 -14.5V0M0 -20.5V-19.2"/><path vector-effect="non-scaling-stroke" transform="translate(587.20 83.50) scale(0.9597 0.9143)" d="M6.2 -14.5C2.7776 -14.5 0 -11.252 0 -7.25C0 -3.248 2.7776 0 6.2 0C9.6224 0 12.4 -3.248 12.4 -7.25C12.4 -11.252 9.6224 -14.5 6.2 -14.5Z"/></g>
<g fill="none" stroke="#000" stroke-width="2.00" stroke-linecap="butt" stroke-linejoin="miter" shape-rendering="crispEdges"><path vector-effect="non-scaling-stroke" transform="translate(374.10 467.60) scale(0.8308 0.7286)" d="M0 -21L13 0M13 -21L0 0"/><path vector-effect="non-scaling-stroke" transform="translate(390.00 467.60) scale(0.8235 0.7286)" d="M0 -8.8H17"/><path vector-effect="non-scaling-stroke" transform="translate(409.00 467.60) scale(0.8273 0.7286)" d="M11 -11.8C10 -13.6 8.3 -14.5 6 -14.5C2.5 -14.5 0 -11.5 0 -7.25C0 -3 2.5 0 6 0C8.3 0 10 -0.9 11 -2.7"/><path vector-effect="non-scaling-stroke" transform="translate(423.20 467.60) scale(0.8065 0.7286)" d="M6.2 -14.5C2.7776 -14.5 0 -11.252 0 -7.25C0 -3.248 2.7776 0 6.2 0C9.6224 0 12.4 -3.248 12.4 -7.25C12.4 -11.252 9.6224 -14.5 6.2 -14.5Z"/><path vector-effect="non-scaling-stroke" transform="translate(438.30 467.60) scale(0.6935 0.7286)" d="M6.2 -14.5C2.7776 -14.5 0 -11.252 0 -7.25C0 -3.248 2.7776 0 6.2 0C9.6224 0 12.4 -3.248 12.4 -7.25C12.4 -11.252 9.6224 -14.5 6.2 -14.5Z"/><path vector-effect="non-scaling-stroke" transform="translate(452.90 467.60) scale(0.7867 0.7286)" d="M0 -14.5V0M0 -8.5C0.8 -12.5 3.5 -14.5 6 -14.5H7.5"/><path vector-effect="non-scaling-stroke" transform="translate(462.20 467.60) scale(0.7679 0.7286)" d="M5.6 -14.5C2.5088 -14.5 0 -11.252 0 -7.25C0 -3.248 2.5088 0 5.6 0C8.6912 0 11.2 -3.248 11.2 -7.25C11.2 -11.252 8.6912 -14.5 5.6 -14.5ZM11.2 -21V0"/><path vector-effect="non-scaling-stroke" transform="translate(477.15 467.60) scale(0.7286 0.7286)" d="M0 -14.5V0M0 -20.5V-19.2"/><path vector-effect="non-scaling-stroke" transform="translate(484.00 467.60) scale(0.6964 0.7286)" d="M0 -14.5V0M0 -9.5C1 -13 3.3 -14.5 6 -14.5C9.3 -14.5 11.2 -12.5 11.2 -9V0"/><path vector-effect="non-scaling-stroke" transform="translate(497.50 467.60) scale(0.8125 0.7286)" d="M5.6 -14.5C2.5088 -14.5 0 -11.252 0 -7.25C0 -3.248 2.5088 0 5.6 0C8.6912 0 11.2 -3.248 11.2 -7.25C11.2 -11.252 8.6912 -14.5 5.6 -14.5ZM11.2 -14.5V0"/><path vector-effect="non-scaling-stroke" transform="translate(511.40 467.60) scale(0.5294 0.7286)" d="M2.8 -21V-2.8C2.8 -0.8 3.8 0 5.8 0H8.5M0 -14H8"/><path vector-effect="non-scaling-stroke" transform="translate(520.70 467.60) scale(0.8070 0.7286)" d="M0.1 -7.5H11.4C11.4 -11.8 9 -14.5 5.8 -14.5C2.5 -14.5 0 -11.5 0 -7.25C0 -3 2.5 0 6 0C8.5 0 10.3 -1 11.2 -2.8"/></g>
<g fill="none" stroke="#000" stroke-width="2.00" stroke-linecap="butt" stroke-linejoin="miter" shape-rendering="crispEdges" transform="translate(218.2 340) rotate(-90)"><path vector-effect="non-scaling-stroke" transform="translate(1.00 -1.00) scale(0.7174 0.7619)" d="M0.5 -21H13.5L0 0H13.8"/><path vector-effect="non-scaling-stroke" transform="translate(17.30 -1.00) scale(0.7647 0.7619)" d="M0 -8.8H17"/><path vector-effect="non-scaling-stroke" transform="translate(36.20 -1.00) scale(0.8182 0.7619)" d="M11 -11.8C10 -13.6 8.3 -14.5 6 -14.5C2.5 -14.5 0 -11.5 0 -7.25C0 -3 2.5 0 6 0C8.3 0 10 -0.9 11 -2.7"/><path vector-effect="non-scaling-stroke" transform="translate(49.20 -1.00) scale(0.7903 0.7619)" d="M6.2 -14.5C2.7776 -14.5 0 -11.252 0 -7.25C0 -3.248 2.7776 0 6.2 0C9.6224 0 12.4 -3.248 12.4 -7.25C12.4 -11.252 9.6224 -14.5 6.2 -14.5Z"/><path vector-effect="non-scaling-stroke" transform="translate(64.50 -1.00) scale(0.7581 0.7619)" d="M6.2 -14.5C2.7776 -14.5 0 -11.252 0 -7.25C0 -3.248 2.7776 0 6.2 0C9.6224 0 12.4 -3.248 12.4 -7.25C12.4 -11.252 9.6224 -14.5 6.2 -14.5Z"/><path vector-effect="non-scaling-stroke" transform="translate(79.30 -1.00) scale(0.7600 0.7619)" d="M0 -14.5V0M0 -8.5C0.8 -12.5 3.5 -14.5 6 -14.5H7.5"/><path vector-effect="non-scaling-stroke" transform="translate(88.10 -1.00) scale(0.7768 0.7619)" d="M5.6 -14.5C2.5088 -14.5 0 -11.252 0 -7.25C0 -3.248 2.5088 0 5.6 0C8.6912 0 11.2 -3.248 11.2 -7.25C11.2 -11.252 8.6912 -14.5 5.6 -14.5ZM11.2 -21V0"/><path vector-effect="non-scaling-stroke" transform="translate(104.15 -1.00) scale(0.7619 0.7619)" d="M0 -14.5V0M0 -20.5V-19.2"/><path vector-effect="non-scaling-stroke" transform="translate(110.30 -1.00) scale(0.6786 0.7619)" d="M0 -14.5V0M0 -9.5C1 -13 3.3 -14.5 6 -14.5C9.3 -14.5 11.2 -12.5 11.2 -9V0"/><path vector-effect="non-scaling-stroke" transform="translate(123.20 -1.00) scale(0.8839 0.7619)" d="M5.6 -14.5C2.5088 -14.5 0 -11.252 0 -7.25C0 -3.248 2.5088 0 5.6 0C8.6912 0 11.2 -3.248 11.2 -7.25C11.2 -11.252 8.6912 -14.5 5.6 -14.5ZM11.2 -14.5V0"/><path vector-effect="non-scaling-stroke" transform="translate(137.40 -1.00) scale(0.6118 0.7619)" d="M2.8 -21V-2.8C2.8 -0.8 3.8 0 5.8 0H8.5M0 -14H8"/><path vector-effect="non-scaling-stroke" transform="translate(146.90 -1.00) scale(0.7982 0.7619)" d="M0.1 -7.5H11.4C11.4 -11.8 9 -14.5 5.8 -14.5C2.5 -14.5 0 -11.5 0 -7.25C0 -3 2.5 0 6 0C8.5 0 10.3 -1 11.2 -2.8"/></g>
<g fill="none" stroke="#000" stroke-width="2.00" stroke-linecap="butt" stroke-linejoin="miter" shape-rendering="crispEdges"><path vector-effect="non-scaling-stroke" transform="translate(165.90 107.90) scale(0.8250 0.5667)" d="M4 -21.5C1.3 -18 0 -14 0 -9.5C0 -5 1.3 -1 4 2"/><path vector-effect="non-scaling-stroke" transform="translate(174.00 107.90) scale(0.8632 0.5667)" d="M0 -15.5L9.5 -1M9.5 -15.5L0 -1"/><path vector-effect="non-scaling-stroke" transform="translate(188.00 107.90) scale(0.7500 0.5667)" d="M0 -16.5L4 -21V0"/><path vector-effect="non-scaling-stroke" transform="translate(198.00 107.90) scale(0.6833 0.5667)" d="M12 -21H0V0H12M0 -10.8H10.5"/><path vector-effect="non-scaling-stroke" transform="translate(208.40 107.90) scale(0.6538 0.5667)" d="M9.5 0V-21L0 -6H13"/><path vector-effect="non-scaling-stroke" transform="translate(230.00 107.90) scale(0.7375 0.5667)" d="M0 -14.5V0M0 -10C0.8 -13.2 2.5 -14.5 4.5 -14.5C6.8 -14.5 8 -13 8 -10V0M8 -10C8.8 -13.2 10.5 -14.5 12.5 -14.5C14.8 -14.5 16 -13 16 -10V0"/><path vector-effect="non-scaling-stroke" transform="translate(247.10 107.90) scale(0.6750 0.5667)" d="M0 -21.5C2.7 -18 4 -14 4 -9.5C4 -5 2.7 -1 0 2"/></g>
<g fill="none" stroke="#000" stroke-width="2.00" stroke-linecap="butt" stroke-linejoin="miter" shape-rendering="crispEdges"><path vector-effect="non-scaling-stroke" transform="translate(568.70 437.10) scale(0.8250 0.5667)" d="M4 -21.5C1.3 -18 0 -14 0 -9.5C0 -5 1.3 -1 4 2"/><path vector-effect="non-scaling-stroke" transform="translate(576.80 437.10) scale(0.8632 0.5667)" d="M0 -15.5L9.5 -1M9.5 -15.5L0 -1"/><path vector-effect="non-scaling-stroke" transform="translate(590.80 437.10) scale(0.7500 0.5667)" d="M0 -16.5L4 -21V0"/><path vector-effect="non-scaling-stroke" transform="translate(600.80 437.10) scale(0.6833 0.5667)" d="M12 -21H0V0H12M0 -10.8H10.5"/><path vector-effect="non-scaling-stroke" transform="translate(611.20 437.10) scale(0.6800 0.5667)" d="M11.5 -21H1.8L0.8 -11.5C2.3 -12.8 4.3 -13.5 6.3 -13.5C10 -13.5 12.5 -10.7 12.5 -6.8C12.5 -2.8 10 0 6.3 0C3.5 0 1.3 -1.2 0 -3.5"/><path vector-effect="non-scaling-stroke" transform="translate(632.80 437.10) scale(0.7375 0.5667)" d="M0 -14.5V0M0 -10C0.8 -13.2 2.5 -14.5 4.5 -14.5C6.8 -14.5 8 -13 8 -10V0M8 -10C8.8 -13.2 10.5 -14.5 12.5 -14.5C14.8 -14.5 16 -13 16 -10V0"/><path vector-effect="non-scaling-stroke" transform="translate(649.90 437.10) scale(0.6750 0.5667)" d="M0 -21.5C2.7 -18 4 -14 4 -9.5C4 -5 2.7 -1 0 2"/></g>
<g fill="none" stroke="#000" stroke-width="2.00" stroke-linecap="butt" stroke-linejoin="miter" shape-rendering="crispEdges"><path vector-effect="non-scaling-stroke" transform="translate(329.80 413.90) scale(0.9000 0.5619)" d="M0 -16.5L4 -21V0"/></g>
<g fill="none" stroke="#000" stroke-width="2.00" stroke-linecap="butt" stroke-linejoin="miter" shape-rendering="crispEdges"><path vector-effect="non-scaling-stroke" transform="translate(405.10 413.90) scale(0.5643 0.5619)" d="M0.5 -15.5C0.5 -19 3.2 -21 7 -21C10.8 -21 13.5 -18.8 13.5 -15.5C13.5 -12.5 11.5 -10.5 9 -8.2L0 0H14"/></g>
<g fill="none" stroke="#000" stroke-width="2.00" stroke-linecap="butt" stroke-linejoin="miter" shape-rendering="crispEdges"><path vector-effect="non-scaling-stroke" transform="translate(482.00 413.90) scale(0.6692 0.5619)" d="M0.8 -17C1.5 -19.8 3.8 -21 6.5 -21C9.8 -21 12.2 -19 12.2 -16C12.2 -13 9.8 -11.2 6.3 -11.2C10.2 -11.2 13 -9 13 -5.6C13 -2.2 10.2 0 6.5 0C3.2 0 0.8 -1.5 0 -4.5"/></g>
<g fill="none" stroke="#000" stroke-width="2.00" stroke-linecap="butt" stroke-linejoin="miter" shape-rendering="crispEdges"><path vector-effect="non-scaling-stroke" transform="translate(557.70 413.90) scale(0.7000 0.5619)" d="M9.5 0V-21L0 -6H13"/></g>
<g fill="none" stroke="#000" stroke-width="2.00" stroke-linecap="butt" stroke-linejoin="miter" shape-rendering="crispEdges"><path vector-effect="non-scaling-stroke" transform="translate(634.70 413.90) scale(0.6400 0.5619)" d="M11.5 -21H1.8L0.8 -11.5C2.3 -12.8 4.3 -13.5 6.3 -13.5C10 -13.5 12.5 -10.7 12.5 -6.8C12.5 -2.8 10 0 6.3 0C3.5 0 1.3 -1.2 0 -3.5"/></g>
<g fill="none" stroke="#000" stroke-width="2.00" stroke-linecap="butt" stroke-linejoin="miter" shape-rendering="crispEdges"><path vector-effect="non-scaling-stroke" transform="translate(236.10 222.90) scale(0.5786 0.5619)" d="M0.5 -15.5C0.5 -19 3.2 -21 7 -21C10.8 -21 13.5 -18.8 13.5 -15.5C13.5 -12.5 11.5 -10.5 9 -8.2L0 0H14"/></g>
<g fill="none" stroke="#000" stroke-width="2.00" stroke-linecap="butt" stroke-linejoin="miter" shape-rendering="crispEdges"><path vector-effect="non-scaling-stroke" transform="translate(237.50 311.40) scale(1.0500 0.5667)" d="M0 -16.5L4 -21V0"/></g>
<g fill="none" stroke="#000" stroke-width="2.00" stroke-linecap="butt" stroke-linejoin="miter" shape-rendering="crispEdges"><path vector-effect="non-scaling-stroke" transform="translate(688.00 241.70) scale(0.5308 0.5000)" d="M4 -21H9L13 -17V-4L9 0H4L0 -4V-17Z"/><path vector-effect="non-scaling-stroke" transform="translate(698.00 241.70) scale(0.5000 0.5000)" d="M0 -0.3H2M1.5 -2.5L0.5 -0.5"/><path vector-effect="non-scaling-stroke" transform="translate(703.30 241.70) scale(0.5231 0.5000)" d="M4 -21H9L13 -17V-4L9 0H4L0 -4V-17Z"/><path vector-effect="non-scaling-stroke" transform="translate(713.20 241.70) scale(0.5077 0.5000)" d="M4 -21H9L13 -17V-4L9 0H4L0 -4V-17Z"/><path vector-effect="non-scaling-stroke" transform="translate(724.00 241.70) scale(0.5231 0.5000)" d="M9.5 0V-21L0 -6H13"/></g>
<g fill="none" stroke="#000" stroke-width="2.00" stroke-linecap="butt" stroke-linejoin="miter" shape-rendering="crispEdges"><path vector-effect="non-scaling-stroke" transform="translate(687.80 277.90) scale(0.5200 0.5143)" d="M11.5 -21H1.8L0.8 -11.5C2.3 -12.8 4.3 -13.5 6.3 -13.5C10 -13.5 12.5 -10.7 12.5 -6.8C12.5 -2.8 10 0 6.3 0C3.5 0 1.3 -1.2 0 -3.5"/><path vector-effect="non-scaling-stroke" transform="translate(697.40 277.90) scale(0.5965 0.5143)" d="M0.1 -7.5H11.4C11.4 -11.8 9 -14.5 5.8 -14.5C2.5 -14.5 0 -11.5 0 -7.25C0 -3 2.5 0 6 0C8.5 0 10.3 -1 11.2 -2.8"/><path vector-effect="non-scaling-stroke" transform="translate(708.00 277.90) scale(0.5059 0.5143)" d="M0 -8.8H17"/><path vector-effect="non-scaling-stroke" transform="translate(720.00 277.90) scale(0.6154 0.5143)" d="M9.5 0V-21L0 -6H13"/></g>
<g fill="none" stroke="#000" stroke-width="2.00" stroke-linecap="butt" stroke-linejoin="miter" shape-rendering="crispEdges"><path vector-effect="non-scaling-stroke" transform="translate(687.80 293.80) scale(0.5294 0.5143)" d="M0 -8.8H17"/><path vector-effect="non-scaling-stroke" transform="translate(700.90 293.80) scale(0.5538 0.5143)" d="M4 -21H9L13 -17V-4L9 0H4L0 -4V-17Z"/><path vector-effect="non-scaling-stroke" transform="translate(712.30 293.80) scale(0.2000 0.5143)" d="M0 -0.3H2M1.5 -2.5L0.5 -0.5"/><path vector-effect="non-scaling-stroke" transform="translate(716.20 293.80) scale(0.5769 0.5143)" d="M4 -21H9L13 -17V-4L9 0H4L0 -4V-17Z"/><path vector-effect="non-scaling-stroke" transform="translate(726.10 293.80) scale(0.5769 0.5143)" d="M4 -21H9L13 -17V-4L9 0H4L0 -4V-17Z"/><path vector-effect="non-scaling-stroke" transform="translate(738.10 293.80) scale(0.8250 0.5143)" d="M0 -16.5L4 -21V0"/></g>
<g fill="none" stroke="#000" stroke-width="2.00" stroke-linecap="butt" stroke-linejoin="miter" shape-rendering="crispEdges"><path vector-effect="non-scaling-stroke" transform="translate(687.80 345.00) scale(0.5294 0.4524)" d="M0 -8.8H17"/><path vector-effect="non-scaling-stroke" transform="translate(700.90 345.00) scale(0.5538 0.4524)" d="M4 -21H9L13 -17V-4L9 0H4L0 -4V-17Z"/><path vector-effect="non-scaling-stroke" transform="translate(712.30 345.00) scale(0.2000 0.4524)" d="M0 -0.3H2M1.5 -2.5L0.5 -0.5"/><path vector-effect="non-scaling-stroke" transform="translate(716.20 345.00) scale(0.5769 0.4524)" d="M4 -21H9L13 -17V-4L9 0H4L0 -4V-17Z"/><path vector-effect="non-scaling-stroke" transform="translate(726.10 345.00) scale(0.5769 0.4524)" d="M4 -21H9L13 -17V-4L9 0H4L0 -4V-17Z"/><path vector-effect="non-scaling-stroke" transform="translate(736.50 345.00) scale(0.5625 0.4524)" d="M12.2 -17.5C11.5 -19.8 9.3 -21 6.8 -21C2.5 -21 0 -17 0 -10.5C0 -3.8 2.3 0 6.5 0C10.2 0 12.8 -2.8 12.8 -6.8C12.8 -10.8 10.2 -13.3 6.5 -13.3C3.2 -13.3 1 -11.5 0.1 -8.5"/></g>
<g fill="none" stroke="#000" stroke-width="1.00" stroke-linecap="butt" stroke-linejoin="miter" shape-rendering="crispEdges"><path vector-effect="non-scaling-stroke" transform="translate(656.10 142.40) scale(0.5176 0.5190)" d="M2.8 -21V-2.8C2.8 -0.8 3.8 0 5.8 0H8.5M0 -14H8"/><path vector-effect="non-scaling-stroke" transform="translate(663.50 142.40) scale(0.9091 0.5190)" d="M0 -12.7H11M0 -6H11"/><path vector-effect="non-scaling-stroke" transform="translate(678.40 142.40) scale(0.7500 0.5190)" d="M0 -16.5L4 -21V0"/><path vector-effect="non-scaling-stroke" transform="translate(687.30 142.40) scale(0.6385 0.5190)" d="M0.8 -17C1.5 -19.8 3.8 -21 6.5 -21C9.8 -21 12.2 -19 12.2 -16C12.2 -13 9.8 -11.2 6.3 -11.2C10.2 -11.2 13 -9 13 -5.6C13 -2.2 10.2 0 6.5 0C3.2 0 0.8 -1.5 0 -4.5"/><path vector-effect="non-scaling-stroke" transform="translate(698.60 142.40) scale(0.4643 0.5190)" d="M0.5 -15.5C0.5 -19 3.2 -21 7 -21C10.8 -21 13.5 -18.8 13.5 -15.5C13.5 -12.5 11.5 -10.5 9 -8.2L0 0H14"/><path vector-effect="non-scaling-stroke" transform="translate(709.50 142.40) scale(0.5391 0.5190)" d="M12.2 -17.5C11.5 -19.8 9.3 -21 6.8 -21C2.5 -21 0 -17 0 -10.5C0 -3.8 2.3 0 6.5 0C10.2 0 12.8 -2.8 12.8 -6.8C12.8 -10.8 10.2 -13.3 6.5 -13.3C3.2 -13.3 1 -11.5 0.1 -8.5"/><path vector-effect="non-scaling-stroke" transform="translate(719.40 142.40) scale(0.6154 0.5190)" d="M6.5 -21C2.912 -21 0 -16.296 0 -10.5C0 -4.704 2.912 0 6.5 0C10.088 0 13 -4.704 13 -10.5C13 -16.296 10.088 -21 6.5 -21Z"/><path vector-effect="non-scaling-stroke" transform="translate(731.00 142.40) scale(0.5923 0.5190)" d="M6.5 -21C2.912 -21 0 -16.296 0 -10.5C0 -4.704 2.912 0 6.5 0C10.088 0 13 -4.704 13 -10.5C13 -16.296 10.088 -21 6.5 -21Z"/><path vector-effect="non-scaling-stroke" transform="translate(749.30 142.40) scale(0.6000 0.5190)" d="M10 -12.5C9 -14 7.5 -14.5 5.5 -14.5C2.8 -14.5 0.8 -13.2 0.8 -10.8C0.8 -8.5 3 -7.8 5.5 -7.2C8.5 -6.5 10.5 -5.5 10.5 -3.5C10.5 -1.2 8.5 0 5.5 0C3 0 1.2 -0.7 0 -2.5"/></g>
</svg>
</body></html>
